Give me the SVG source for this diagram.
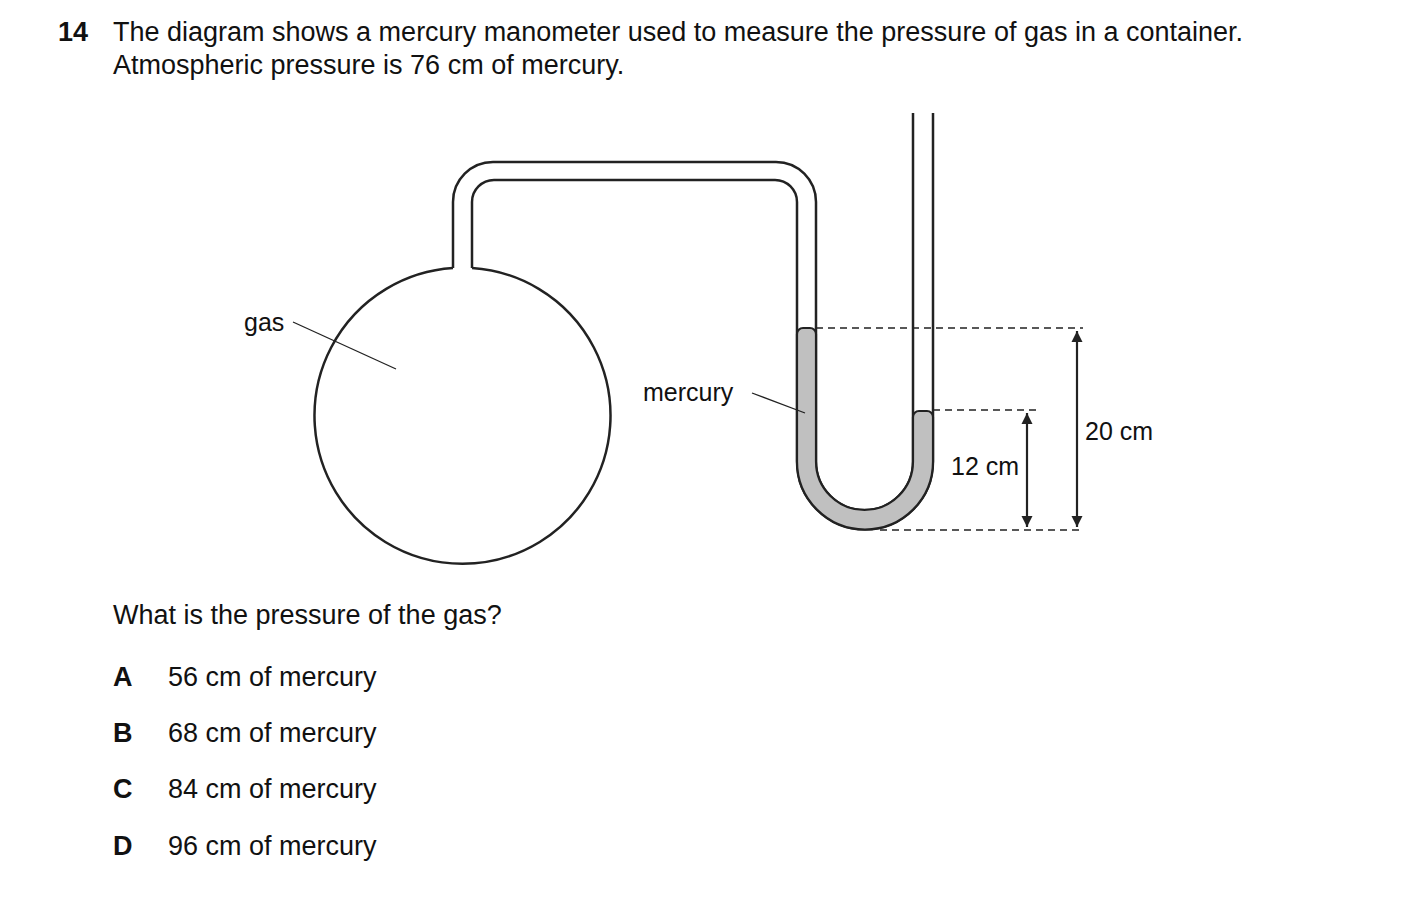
<svg xmlns="http://www.w3.org/2000/svg" width="1403" height="911" viewBox="0 0 1403 911">
<defs>
<style>
text{font-family:"Liberation Sans",Arial,sans-serif;font-size:27px;fill:#111}
.s{font-size:25px}
.b{font-weight:bold}
.l{fill:none;stroke:#222;stroke-width:2.5}
.t{fill:none;stroke:#222;stroke-width:1.3}
.d{fill:none;stroke:#222;stroke-width:1.3;stroke-dasharray:7,5}
.a{fill:none;stroke:#222;stroke-width:2.2}
</style>
<marker id="ah" viewBox="0 0 10 10" refX="10" refY="5" markerWidth="5" markerHeight="6" orient="auto-start-reverse" markerUnits="strokeWidth"><path d="M0,0L10,5L0,10Z" fill="#222"/></marker>
</defs>
<rect width="1403" height="911" fill="#fff"/>
<text x="58" y="41" class="b">14</text>
<text x="113" y="41">The diagram shows a mercury manometer used to measure the pressure of gas in a container.</text>
<text x="113" y="74">Atmospheric pressure is 76 cm of mercury.</text>
<g id="flask">
<path class="l" d="M453,268 A148,148 0 1 0 472,268"/>
</g>
<g id="tube">
<path class="l" d="M453,268 V202 A40,40 0 0 1 493,162 H776 A40,40 0 0 1 816,202 V461.5 A48.5,48.5 0 0 0 913,461.5 V113"/>
<path class="l" d="M472,268 V202 A22,22 0 0 1 494,180 H775 A22,22 0 0 1 797,202 V461.5 A67.5,67.5 0 0 0 933,461.5 V113"/>
</g>
<g id="mercury">
<path d="M797,334 A6,6 0 0 1 803,328 H810 A6,6 0 0 1 816,334 V461.5 A48.5,48.5 0 0 0 913,461.5 V417 A6,6 0 0 1 919,411 H927 A6,6 0 0 1 933,417 V461.5 A68,68 0 0 1 797,461.5 Z" fill="#c0c0c0" stroke="#222" stroke-width="2.2"/>
</g>
<g id="connectors">
<line class="t" x1="293" y1="322" x2="396" y2="369"/>
<line class="t" x1="752" y1="393" x2="805" y2="413"/>
<line class="d" x1="816" y1="328" x2="1083" y2="328"/>
<line class="d" x1="933" y1="410" x2="1038" y2="410"/>
<line class="d" x1="880" y1="530" x2="1083" y2="530"/>
<line class="a" x1="1027" y1="413" x2="1027" y2="527" marker-start="url(#ah)" marker-end="url(#ah)"/>
<line class="a" x1="1077" y1="331" x2="1077" y2="527" marker-start="url(#ah)" marker-end="url(#ah)"/>
</g>
<text x="244" y="331" class="s">gas</text>
<text x="643" y="401" class="s">mercury</text>
<text x="951" y="475" class="s">12 cm</text>
<text x="1085" y="440" class="s">20 cm</text>
<text x="113" y="624">What is the pressure of the gas?</text>
<text x="113" y="686" class="b">A</text><text x="168" y="686">56 cm of mercury</text>
<text x="113" y="742" class="b">B</text><text x="168" y="742">68 cm of mercury</text>
<text x="113" y="798" class="b">C</text><text x="168" y="798">84 cm of mercury</text>
<text x="113" y="855" class="b">D</text><text x="168" y="855">96 cm of mercury</text>
</svg>
